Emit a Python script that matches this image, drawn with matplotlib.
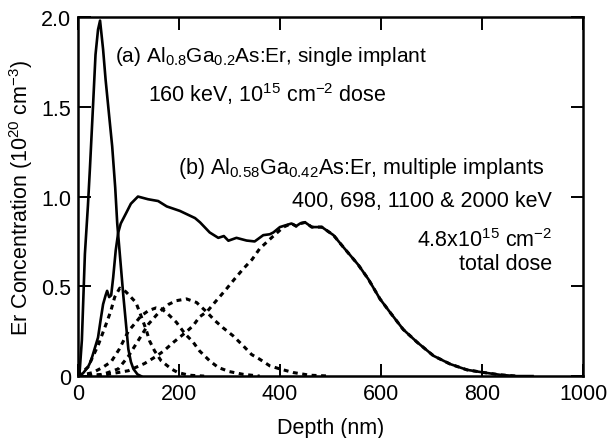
import matplotlib
matplotlib.use("Agg")
import matplotlib.pyplot as plt
import numpy as np

plt.rcParams['font.family'] = ['Liberation Sans', 'DejaVu Sans']
plt.rcParams['mathtext.fontset'] = 'custom'
plt.rcParams['mathtext.rm'] = 'Liberation Sans'
plt.rcParams['mathtext.it'] = 'Liberation Sans:italic'
plt.rcParams['mathtext.bf'] = 'Liberation Sans:bold'
plt.rcParams['mathtext.default'] = 'rm'

# (a) single implant, 160 keV
single_x = [3, 8, 14, 20, 24, 30, 35, 40, 44, 50, 55, 62, 68, 74, 78, 84, 90, 95, 100, 105, 110, 118, 125]
single_y = [0.0, 0.2, 0.68, 0.95, 1.16, 1.5, 1.79, 1.93, 1.98, 1.82, 1.65, 1.45, 1.28, 1.05, 0.85, 0.65, 0.45, 0.30, 0.15, 0.08, 0.04, 0.01, 0.0]

# (b) multiple implants, total profile
total_x = [0, 10, 20, 26, 33, 40, 45, 50, 55, 58, 62, 66, 70, 75, 80, 85, 96, 105, 119, 139, 159, 176, 202,
           232, 242, 261, 278, 289, 298, 314, 334, 350, 367, 380, 387, 400, 423, 432, 440, 450, 463, 483,
           506, 525, 555, 575, 598, 618, 644, 671, 704, 737, 770, 803, 836, 868, 900]
total_y = [0.0, 0.015, 0.05, 0.085, 0.15, 0.215, 0.31, 0.40, 0.45, 0.475, 0.44, 0.45, 0.55, 0.70, 0.80, 0.85, 0.91, 0.96, 1.0, 0.985, 0.975, 0.945, 0.92,
           0.88, 0.856, 0.80, 0.77, 0.78, 0.754, 0.77, 0.755, 0.75, 0.785, 0.79, 0.80, 0.83, 0.85, 0.835, 0.85, 0.856, 0.83, 0.83,
           0.785, 0.72, 0.62, 0.54, 0.43, 0.355, 0.26, 0.19, 0.113, 0.067, 0.035, 0.02, 0.007, 0.0, 0.0]

# individual implants
imp400_x = [0, 20, 40, 56, 65, 73, 83, 95, 105, 115, 125, 135, 142, 152, 165, 185, 198, 220, 250]
imp400_y = [0.0, 0.05, 0.17, 0.29, 0.36, 0.44, 0.49, 0.47, 0.44, 0.41, 0.336, 0.26, 0.196, 0.14, 0.085, 0.04, 0.02, 0.005, 0.0]

imp698_x = [0, 30, 50, 66, 82, 100, 115, 125, 140, 155, 165, 175, 195, 212, 228, 241, 261, 278, 300, 327, 360]
imp698_y = [0.0, 0.02, 0.05, 0.08, 0.15, 0.25, 0.30, 0.335, 0.365, 0.38, 0.375, 0.355, 0.30, 0.236, 0.19, 0.14, 0.085, 0.048, 0.025, 0.01, 0.0]

imp1100_x = [0, 50, 80, 100, 120, 140, 162, 180, 195, 215, 235, 254, 271, 287, 307, 327, 344, 360, 380, 400, 426, 459, 500]
imp1100_y = [0.0, 0.01, 0.04, 0.11, 0.2, 0.29, 0.36, 0.40, 0.42, 0.43, 0.41, 0.36, 0.31, 0.27, 0.225, 0.17, 0.12, 0.094, 0.057, 0.04, 0.02, 0.005, 0.0]

imp2000_x = [0, 50, 100, 132, 155, 170, 190, 212, 228, 241, 256, 271, 294, 310, 327, 345, 360, 387, 407, 423, 432, 440, 450, 463, 483,
             506, 525, 555, 575, 598, 618, 644, 671, 704, 737, 770, 803, 836, 868]
imp2000_y = [0.0, 0.005, 0.03, 0.07, 0.11, 0.14, 0.19, 0.24, 0.28, 0.33, 0.36, 0.41, 0.485, 0.54, 0.596, 0.65, 0.71, 0.78, 0.83, 0.85, 0.835, 0.85, 0.856, 0.83, 0.83,
             0.785, 0.72, 0.62, 0.54, 0.43, 0.355, 0.26, 0.19, 0.113, 0.067, 0.035, 0.02, 0.007, 0.0]

x_ticks = [0, 200, 400, 600, 800, 1000]
y_ticks = [0, 0.5, 1.0, 1.5, 2.0]
y_tick_labels = ['0', '0.5', '1.0', '1.5', '2.0']

fig = plt.figure(figsize=(6.08, 4.39), dpi=100)
ax = fig.add_axes([0.128, 0.141, 0.831, 0.818])

dash = (0, (1.6, 1.5))
for xs, ys in [(imp400_x, imp400_y), (imp698_x, imp698_y), (imp1100_x, imp1100_y), (imp2000_x, imp2000_y)]:
    ax.plot(xs, ys, color='black', lw=2.2, linestyle=dash, dash_capstyle='butt')
ax.plot(single_x, single_y, color='black', lw=1.9, solid_joinstyle='round')
ax.plot(total_x, total_y, color='black', lw=1.9, solid_joinstyle='round')

ax.set_xlim(0, 1000)
ax.set_ylim(0, 2.0)
ax.set_xticks(x_ticks)
ax.set_yticks(y_ticks)
ax.set_yticklabels(y_tick_labels)
fs = 15.5
ax.tick_params(direction='in', length=9, width=1.4, top=True, right=True, labelsize=fs, pad=5)
for s in ax.spines.values():
    s.set_linewidth(1.8)

ax.set_xlabel('Depth (nm)', fontsize=fs, labelpad=9)
ax.set_ylabel(r'Er Concentration (10$^{20}$ cm$^{-3}$)', fontsize=fs, labelpad=4)

ax.text(115 / 608, 1 - 62 / 439, r'(a) Al$_{0.8}$Ga$_{0.2}$As:Er, single implant', fontsize=15,
        transform=fig.transFigure, ha='left', va='baseline')
ax.text(148 / 608, 1 - 102 / 439, r'160 keV, 10$^{15}$ cm$^{-2}$ dose', fontsize=fs,
        transform=fig.transFigure, ha='left', va='baseline')
ax.text(178 / 608, 1 - 174 / 439, r'(b) Al$_{0.58}$Ga$_{0.42}$As:Er, multiple implants', fontsize=fs,
        transform=fig.transFigure, ha='left', va='baseline')
ax.text(552 / 608, 1 - 207 / 439, '400, 698, 1100 & 2000 keV', fontsize=fs,
        transform=fig.transFigure, ha='right', va='baseline')
ax.text(552 / 608, 1 - 247 / 439, r'4.8x10$^{15}$ cm$^{-2}$', fontsize=fs,
        transform=fig.transFigure, ha='right', va='baseline')
ax.text(552 / 608, 1 - 270 / 439, 'total dose', fontsize=fs,
        transform=fig.transFigure, ha='right', va='baseline')

fig.savefig('out.png', dpi=100)
